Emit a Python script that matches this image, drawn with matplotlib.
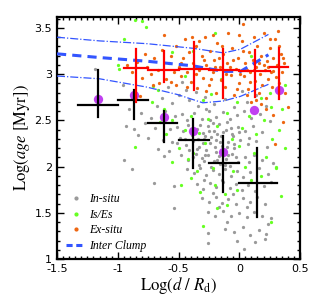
import matplotlib
matplotlib.use("Agg")
import matplotlib.pyplot as plt
from matplotlib.lines import Line2D
from matplotlib.ticker import MultipleLocator, FormatStrFormatter

plt.rcParams['mathtext.fontset'] = 'stix'
plt.rcParams['font.family'] = ['DejaVu Sans']

# ---- data ----
insitu_pts = [
    (-1.19,3.06),(-0.96,2.88),(-0.91,2.62),(-0.93,2.44),(-0.87,2.41),(-0.81,2.58),(-0.83,2.34),(-0.95,2.07),
    (-0.88,1.97),(-0.70,1.82),(-0.62,2.11),(-0.54,1.79),(-0.54,1.55),(-0.78,2.47),(-0.73,2.53),(-0.75,2.31),
    (-0.68,2.66),(-0.64,2.74),(-0.61,2.60),(-0.59,2.86),(-0.55,2.69),(-0.50,2.78),(-0.53,2.55),(-0.57,2.41),
    (-0.63,2.29),(-0.67,2.19),(-0.58,2.17),(-0.51,2.26),(-0.69,2.42),(-0.47,2.91),(-0.44,2.83),
    (-0.41,2.72),(-0.34,2.66),(-0.28,2.75),(-0.21,2.68),(-0.12,2.73),(-0.04,2.64),(0.06,2.70),(0.14,2.77),
    (0.22,2.66),(-0.36,2.81),(0.02,2.82),
    (-0.47,2.57),(-0.43,2.50),(-0.37,2.58),(-0.31,2.52),(-0.25,2.60),(-0.19,2.54),(-0.13,2.59),(-0.08,2.51),
    (-0.02,2.56),(0.04,2.60),(0.10,2.53),(0.17,2.57),(0.25,2.49),(-0.22,2.47),(-0.27,2.62),
    (-0.51,2.43),(-0.46,2.38),(-0.42,2.45),(-0.35,2.41),(-0.30,2.36),(-0.26,2.44),(-0.21,2.39),(-0.17,2.46),
    (-0.11,2.40),(-0.06,2.35),(-0.01,2.43),(0.05,2.38),(0.11,2.44),(0.19,2.37),(-0.39,2.34),(-0.15,2.33),(0.08,2.31),
    (-0.55,2.27),(-0.49,2.31),(-0.44,2.23),(-0.38,2.28),(-0.33,2.21),(-0.29,2.30),(-0.24,2.25),(-0.19,2.29),
    (-0.14,2.22),(-0.09,2.27),(-0.04,2.20),(0.01,2.29),(0.07,2.24),(0.14,2.28),(0.23,2.21),(-0.27,2.18),(-0.12,2.17),
    (-0.48,2.12),(-0.42,2.07),(-0.36,2.14),(-0.31,2.09),(-0.26,2.13),(-0.21,2.06),(-0.17,2.11),(-0.11,2.08),
    (-0.06,2.14),(-0.01,2.05),(0.05,2.10),(0.12,2.13),(0.19,2.07),(-0.33,2.02),(-0.23,2.00),(-0.08,2.01),(0.28,2.04),
    (-0.43,1.97),(-0.37,1.93),(-0.32,1.98),(-0.27,1.91),(-0.22,1.96),(-0.17,1.92),(-0.12,1.97),(-0.07,1.90),
    (-0.02,1.95),(0.03,1.89),(0.09,1.94),(0.16,1.98),(0.24,1.92),(-0.29,1.86),(-0.14,1.85),
    (-0.35,1.81),(-0.30,1.76),(-0.24,1.82),(-0.19,1.78),(-0.13,1.83),(-0.08,1.77),(-0.03,1.81),(0.02,1.75),
    (0.07,1.80),(0.13,1.74),(0.20,1.79),(0.26,1.83),(-0.22,1.71),(-0.05,1.70),
    (-0.31,1.66),(-0.25,1.62),(-0.19,1.67),(-0.14,1.61),(-0.09,1.65),(-0.03,1.60),(0.03,1.66),(0.09,1.62),
    (0.15,1.67),(0.21,1.60),(-0.17,1.56),(0.06,1.56),
    (-0.26,1.51),(-0.20,1.47),(-0.13,1.52),(-0.07,1.46),(0.00,1.50),(0.06,1.45),(0.12,1.51),(0.19,1.47),
    (0.26,1.44),(0.24,1.38),(-0.10,1.40),
    (-0.26,1.28),(-0.12,1.33),(-0.04,1.29),(0.03,1.35),(0.09,1.26),(0.16,1.31),(0.22,1.27),(-0.26,1.17),
    (-0.02,1.20),(0.04,1.11),(0.13,1.18),(0.21,1.22),
    (-0.32,2.45),(-0.28,2.33),(-0.18,2.35),(-0.24,2.50),(-0.10,2.48),(-0.20,2.21),(-0.16,2.03),(-0.04,2.24),
    (-0.35,2.19),(-0.13,2.37),(-0.29,2.06),(-0.07,2.42),(-0.25,2.38),(-0.19,2.16),(-0.09,2.13),
    (-0.40,2.38),(-0.34,2.30),(-0.30,2.25),(-0.23,2.32),(-0.16,2.27),(-0.10,2.21),(-0.05,2.33),(0.00,2.37),
    (-0.38,2.10),(-0.28,2.12),(-0.18,2.07),(-0.12,2.02),(-0.03,2.10),(0.08,2.05),(-0.45,2.30),(-0.41,2.18),
]

exsitu_pts = [
    (-0.92,3.10),(-0.88,3.02),(-0.84,3.13),(-0.80,2.96),(-0.76,3.08),(-0.73,3.00),(-0.70,3.18),(-0.67,3.05),
    (-0.64,3.26),(-0.62,3.42),(-0.60,2.95),(-0.58,3.12),(-0.56,3.20),(-0.54,3.02),(-0.78,3.22),(-0.71,2.88),
    (-0.82,2.76),(-0.66,2.90),
    (-0.52,3.31),(-0.50,3.08),(-0.48,2.98),(-0.46,3.18),(-0.45,3.38),(-0.43,3.02),(-0.41,3.24),(-0.40,2.92),
    (-0.38,3.12),(-0.36,3.30),(-0.35,2.85),(-0.33,3.05),(-0.31,3.20),(-0.30,2.96),(-0.28,3.40),(-0.27,3.10),
    (-0.25,2.88),(-0.24,3.25),(-0.22,3.02),(-0.21,3.15),(-0.19,2.80),(-0.18,3.34),(-0.16,3.08),(-0.15,2.94),
    (-0.13,3.22),(-0.12,2.86),(-0.10,3.12),(-0.09,3.45),(-0.07,2.99),(-0.06,3.28),(-0.04,2.78),(-0.03,3.06),
    (-0.01,3.18),(0.00,2.90),(0.02,3.36),(0.03,3.54),(0.04,2.98),(0.05,3.12),(0.07,2.84),(0.08,3.24),
    (0.09,3.02),(0.10,2.70),(0.11,3.15),(0.12,3.40),(0.13,2.93),(0.14,3.08),(0.15,3.30),(0.16,2.80),
    (0.17,3.00),(0.18,3.20),(0.19,2.88),(0.20,3.45),(0.21,3.05),(0.22,2.74),(0.23,3.14),(0.24,2.95),
    (0.25,3.28),(0.26,3.02),(0.27,2.86),(0.28,3.18),(0.29,3.38),(0.30,2.97),(0.31,3.10),(0.32,3.47),
    (0.33,2.90),(0.34,3.22),(0.35,3.02),(0.37,3.12),(0.38,2.80),(0.40,2.64),(0.29,2.24),(0.36,2.48),(0.28,2.56),
    (-0.36,3.00),(-0.29,3.15),(-0.23,2.95),(-0.17,3.18),(-0.11,3.00),(-0.05,3.15),(0.01,3.00),(0.06,3.05),
    (0.12,3.05),(0.16,3.12),(0.20,3.10),(0.24,3.08),(0.28,3.03),(-0.20,3.08),(-0.08,3.08),(0.03,3.25),
    (0.09,2.92),(-0.14,3.30),(-0.27,2.82),(-0.43,2.86),(-0.48,3.12),(0.14,2.72),(0.06,2.78),(-0.02,2.84),
    (0.18,2.68),(0.22,2.62),(-0.33,3.36),(-0.22,3.42),(-0.39,3.40),(0.00,3.42),(0.25,3.38),(-0.56,2.92),
    (-0.52,2.88),(0.33,3.30),(0.36,3.18),
]

ises_pts = [
    (-0.86,3.59),(-0.80,3.58),(-0.77,3.51),(-0.95,3.38),(-1.00,3.10),(-0.99,3.06),(-0.71,2.87),(-0.67,2.83),
    (-0.62,2.62),(-0.86,2.21),(-0.55,3.24),(-0.45,2.98),(-0.30,2.72),(-0.23,2.79),(-0.55,2.50),(-0.45,2.40),
    (-0.40,2.55),(-0.33,2.36),(-0.26,2.52),(-0.18,2.44),(-0.10,2.58),(-0.06,2.30),(0.02,2.42),(0.08,2.55),
    (0.14,2.35),(0.20,2.50),(0.27,2.30),(0.33,2.40),(0.26,2.65),(0.18,2.74),(0.38,2.20),(0.30,2.00),
    (0.34,1.68),(0.26,1.40),(0.18,1.90),(0.22,2.10),(0.10,1.85),(0.05,2.00),(-0.02,1.75),(-0.10,1.58),
    (-0.12,1.70),(-0.18,1.55),(-0.22,1.98),(-0.30,1.36),(-0.35,1.95),(-0.38,2.15),(-0.42,2.08),(-0.50,2.20),
    (-0.55,2.05),(-0.48,1.80),(-0.60,2.35),(-0.28,2.25),(-0.14,2.18),(0.00,2.22),(-0.05,1.95),(0.12,2.15),
    (-0.20,1.80),(-0.32,1.72),(-0.65,2.48),(-0.72,2.70),(0.35,2.62),(0.38,2.88),(-0.15,2.95),(0.10,3.20),
    (-0.38,3.25),(-0.20,3.45),(0.25,2.80),(-0.02,2.70),(0.30,1.98),(-0.40,1.88),
]

# Inter-clump median and spread
clump_x = [-1.50, -1.15, -0.76, -0.38, -0.13, 0.01, 0.24]
clump_med = [3.22, 3.18, 3.14, 3.09, 3.03, 3.03, 3.21]
clump_hi = [3.40, 3.36, 3.33, 3.28, 3.23, 3.27, 3.43]
clump_lo_x = [-1.50, -1.15, -0.76, -0.51, -0.30, -0.13, 0.01, 0.24]
clump_lo = [2.98, 2.95, 2.86, 2.78, 2.69, 2.71, 2.76, 2.89]

# In-situ binned medians (black crosses)
ins_x = [-1.16, -0.87, -0.62, -0.38, -0.13, 0.15]
ins_xlo = [-1.33, -0.995, -0.75, -0.50, -0.25, 0.00]
ins_xhi = [-1.00, -0.75, -0.51, -0.25, 0.00, 0.31]
ins_y = [2.67, 2.72, 2.47, 2.29, 2.04, 1.82]
ins_ylo = [2.54, 2.51, 2.27, 1.99, 1.72, 1.45]
ins_yhi = [3.05, 2.83, 2.60, 2.52, 2.33, 2.20]

# Ex-situ binned medians (red crosses)
ex_x = [-0.85, -0.62, -0.375, -0.13, 0.13, 0.33]
ex_xlo = [-0.95, -0.75, -0.50, -0.25, 0.00, 0.25]
ex_xhi = [-0.75, -0.50, -0.25, 0.00, 0.25, 0.40]
ex_y = [3.07, 3.05, 3.06, 3.05, 3.03, 3.08]
ex_ylo = [2.70, 2.91, 2.83, 2.74, 2.75, 2.73]
ex_yhi = [3.27, 3.25, 3.35, 3.27, 3.26, 3.28]

# purple circles
pur_x = [-1.16, -0.87, -0.62, -0.38, -0.13, 0.12, 0.33]
pur_y = [2.73, 2.78, 2.54, 2.38, 2.16, 2.61, 2.83]

GRAY = '#9a9a9a'
GREEN = '#66ff22'
ORANGE = '#ee6611'
BLUE = '#3355ff'
RED = '#ff0000'
PURPLE = '#c040f0'

fig = plt.figure(figsize=(3.24, 2.96), dpi=100)
ax = fig.add_axes([0.176, 0.125, 0.750, 0.818])

ax.scatter([p[0] for p in insitu_pts], [p[1] for p in insitu_pts], s=5.5, c=GRAY, lw=0, zorder=2)
ax.scatter([p[0] for p in ises_pts], [p[1] for p in ises_pts], s=5.5, c=GREEN, lw=0, zorder=3)
ax.scatter([p[0] for p in exsitu_pts], [p[1] for p in exsitu_pts], s=5.5, c=ORANGE, lw=0, zorder=3)

ax.plot(clump_x, clump_med, color=BLUE, lw=2.2, ls=(0, (3, 2)), zorder=4)
ax.plot(clump_x, clump_hi, color=BLUE, lw=0.9, ls='-.', zorder=4)
ax.plot(clump_lo_x, clump_lo, color=BLUE, lw=0.9, ls='-.', zorder=4)

ax.scatter(pur_x, pur_y, s=45, c=PURPLE, lw=0, zorder=5)

for x, xl, xh, y, yl, yh in zip(ins_x, ins_xlo, ins_xhi, ins_y, ins_ylo, ins_yhi):
    ax.plot([xl, xh], [y, y], color='black', lw=1.6, zorder=6)
    ax.plot([x, x], [yl, yh], color='black', lw=1.6, zorder=6)
for x, xl, xh, y, yl, yh in zip(ex_x, ex_xlo, ex_xhi, ex_y, ex_ylo, ex_yhi):
    ax.plot([xl, xh], [y, y], color=RED, lw=1.6, zorder=6)
    ax.plot([x, x], [yl, yh], color=RED, lw=1.6, zorder=6)

ax.set_xlim(-1.5, 0.5)
ax.set_ylim(1.0, 3.62)
ax.xaxis.set_major_locator(MultipleLocator(0.5))
ax.xaxis.set_minor_locator(MultipleLocator(0.05))
ax.yaxis.set_major_locator(MultipleLocator(0.5))
ax.yaxis.set_minor_locator(MultipleLocator(0.1))
ax.xaxis.set_major_formatter(FormatStrFormatter('%g'))
ax.yaxis.set_major_formatter(FormatStrFormatter('%g'))
ax.tick_params(which='both', direction='in', top=True, right=True, labelsize=8, width=1.0)
ax.tick_params(which='major', length=5)
ax.tick_params(which='minor', length=2.5)
for s in ax.spines.values():
    s.set_linewidth(1.6)

ax.set_xlabel(r'$\mathrm{Log}(d\ /\ R_{\mathrm{d}})$', fontsize=12, labelpad=1)
ax.set_ylabel(r'$\mathrm{Log}(age\ [\mathrm{Myr}])$', fontsize=12, labelpad=2)

handles = [
    Line2D([], [], ls='none', marker='o', ms=2, mfc=GRAY, mec=GRAY),
    Line2D([], [], ls='none', marker='o', ms=2, mfc=GREEN, mec=GREEN),
    Line2D([], [], ls='none', marker='o', ms=2, mfc=ORANGE, mec=ORANGE),
    Line2D([], [], color=BLUE, lw=2.2, ls=(0, (2, 1.2))),
]
labels = ['In-situ', 'Is/Es', 'Ex-situ', 'Inter Clump']
ax.legend(handles, labels, loc='lower left', frameon=False,
          prop={'family': 'Liberation Serif', 'style': 'italic', 'size': 8.5},
          handlelength=1.6, handletextpad=0.3, labelspacing=0.3,
          bbox_to_anchor=(-0.005, -0.015))

fig.savefig('out.png', dpi=100)
